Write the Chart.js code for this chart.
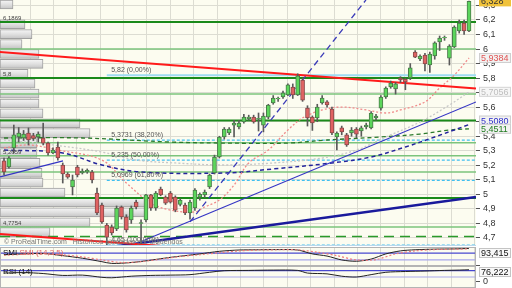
<!DOCTYPE html>
<html><head><meta charset="utf-8">
<script src="https://cdn.jsdelivr.net/npm/chart.js@4.4.0/dist/chart.umd.min.js"></script>
<style>
html,body{margin:0;padding:0;background:#fff;width:512px;height:288px;overflow:hidden;}
canvas{position:absolute;left:0;}
#main{top:0;} #smi{top:247px;} #rsi{top:266px;}
</style></head><body>
<canvas id="main" width="512" height="246"></canvas>
<canvas id="smi" width="512" height="19"></canvas>
<canvas id="rsi" width="512" height="22"></canvas>
<script>
// ---------- DATA ----------
const opens  = [5.230,5.188,5.319,5.395,5.388,5.422,5.405,5.395,5.388,5.353,5.285,5.326,5.202,5.140,5.051,5.188,5.147,5.154,5.154,5.009,4.927,4.789,4.775,4.762,4.913,4.844,4.824,4.947,4.800,4.824,4.996,4.906,5.037,4.982,5.009,4.982,4.930,4.927,4.872,4.906,4.980,4.996,5.051,5.147,5.257,5.395,5.422,5.477,5.464,5.498,5.520,5.532,5.520,5.477,5.532,5.629,5.656,5.670,5.684,5.739,5.684,5.787,5.594,5.532,5.526,5.629,5.636,5.587,5.395,5.457,5.409,5.422,5.450,5.436,5.464,5.457,5.526,5.594,5.670,5.739,5.725,5.801,5.794,5.801,5.980,5.932,5.959,5.890,5.952,6.049,6.076,5.938,6.014,6.124,6.179,6.124];
const closes = [5.154,5.250,5.409,5.422,5.415,5.374,5.385,5.415,5.353,5.285,5.305,5.250,5.140,5.119,5.099,5.133,5.161,5.165,5.099,4.872,4.810,4.706,4.734,4.906,4.844,4.755,4.906,4.913,4.805,4.996,4.906,5.009,4.996,4.940,4.947,4.892,4.960,4.872,4.947,5.030,5.000,5.016,5.133,5.257,5.395,5.450,5.450,5.491,5.491,5.532,5.532,5.498,5.524,5.539,5.615,5.663,5.661,5.698,5.753,5.684,5.815,5.649,5.526,5.491,5.601,5.663,5.615,5.422,5.422,5.429,5.340,5.443,5.415,5.457,5.477,5.560,5.539,5.670,5.732,5.766,5.760,5.787,5.773,5.870,5.945,5.952,5.897,5.966,6.042,6.076,6.081,6.021,6.152,6.179,6.124,6.328];
const highs  = [5.250,5.260,5.477,5.460,5.440,5.457,5.420,5.430,5.490,5.360,5.320,5.360,5.216,5.150,5.133,5.200,5.175,5.175,5.165,5.044,4.940,4.800,4.790,4.920,4.920,4.860,4.920,4.960,4.824,5.000,5.000,5.020,5.050,4.990,5.020,4.990,4.970,4.940,4.960,5.040,5.010,5.030,5.140,5.270,5.400,5.460,5.460,5.510,5.510,5.550,5.545,5.545,5.560,5.560,5.620,5.680,5.670,5.710,5.760,5.760,5.830,5.800,5.610,5.540,5.620,5.680,5.645,5.600,5.430,5.470,5.420,5.460,5.460,5.470,5.490,5.570,5.550,5.680,5.740,5.780,5.770,5.810,5.800,5.900,5.990,5.960,5.970,5.980,6.050,6.090,6.090,6.030,6.160,6.200,6.200,6.330];
const lows   = [5.133,5.180,5.285,5.360,5.370,5.340,5.370,5.360,5.340,5.270,5.280,5.236,5.078,5.110,4.996,5.120,5.140,5.145,5.078,4.860,4.800,4.650,4.720,4.750,4.830,4.740,4.800,4.900,4.660,4.810,4.890,4.890,4.990,4.930,4.940,4.880,4.920,4.860,4.830,4.890,4.960,4.980,5.040,5.140,5.250,5.380,5.410,5.395,5.450,5.490,5.510,5.490,5.436,5.430,5.520,5.620,5.640,5.660,5.680,5.660,5.680,5.640,5.470,5.440,5.500,5.620,5.600,5.410,5.305,5.410,5.330,5.400,5.390,5.400,5.450,5.450,5.510,5.580,5.660,5.730,5.690,5.770,5.720,5.790,5.940,5.920,5.850,5.840,5.930,5.990,6.060,5.890,6.010,6.110,6.100,6.120];

// moving averages  [candle index, price]
const maShort = [[0,5.319],[5,5.340],[11,5.305],[20,5.236],[25,5.078],[30,4.940],[34,4.892],[39,4.879],[41,4.913],[44,4.961],[47,5.064],[50,5.216],[54,5.305],[58,5.443],[61,5.526],[65,5.581],[69,5.601],[74,5.581],[78,5.560],[81,5.581],[86,5.636],[89,5.732],[92,5.821],[95,5.9384]];
const maMid   = [[0,5.374],[10,5.340],[20,5.291],[27,5.236],[35,5.216],[45,5.202],[55,5.216],[65,5.250],[72,5.305],[78,5.395],[85,5.498],[91,5.615],[95,5.7056]];
const maLong  = [[0,5.305],[12,5.285],[20,5.202],[28,5.154],[45,5.147],[55,5.175],[67,5.216],[75,5.257],[82,5.326],[88,5.395],[95,5.480]];
const maLong2 = [[0,5.388],[16,5.388],[34,5.360],[45,5.353],[58,5.353],[66,5.374],[77,5.395],[85,5.415],[91,5.443],[95,5.4511]];

// trend lines [index, price] endpoints
const trendRedTop    = [[-0.82,5.980],[96.43,5.729]];
const trendRedLow    = [[-0.82,4.727],[35,4.638]];
const trendNavy      = [[20,4.629],[96.43,4.982]];
const trendBlueA     = [[-0.82,5.120],[12.05,5.230]];
const trendBlueB     = [[27.8,4.672],[96.43,5.636]];
const trendNavyDash  = [[38,4.810],[73.95,6.338]];

// horizontal levels
const darkLevels  = [6.1869, 5.80, 5.508, 4.975];
const lightLevels = [6.0, 5.69, 5.355, 5.2659, 5.154, 4.7754];
const dashLevel   = 4.71;
const fibLevels   = [5.82, 5.3731, 5.235, 5.0969, 4.65];
const fibPct      = ['0,00%','38,20%','50,00%','61,80%','100,00%'];
const fibStart    = 21;
const profileLabelValues = [6.1869, 5.8, 5.2659, 4.7754];

// volume profile
const profilePrices  = [6.3067,6.2385,6.1704,6.1023,6.0341,5.9660,5.8979,5.8297,5.7616,5.6935,5.6253,5.5572,5.4891,5.4209,5.3528,5.2847,5.2165,5.1484,5.0803,5.0121,4.9440,4.8759,4.8077,4.7396];
const profileVolumes = [13,0,25,32,22,39,43,28,35,39,39,43,80,90,37,37,40,42,43,65,145,145,90,50];

// indicators [index, value]
const smi    = [[0,20],[4,30],[8,35],[12,10],[16,-20],[20,-60],[22,-80],[26,-70],[29,-50],[34,-10],[40,30],[44,60],[48,75],[52,78],[56,80],[60,75],[63,30],[66,5],[69,-40],[72,-55],[75,-30],[78,30],[81,65],[84,78],[88,85],[92,88],[95,93.415]];
const smiSig = [[0,15],[4,25],[8,32],[12,20],[16,-5],[20,-40],[24,-70],[28,-60],[32,-30],[36,0],[40,20],[44,45],[48,65],[52,75],[56,78],[60,77],[64,50],[68,10],[72,-40],[76,-35],[80,30],[84,65],[88,80],[92,85],[95,88]];
const rsi    = [[0,55],[4,58],[8,52],[12,40],[16,42],[20,28],[22,25],[26,35],[30,40],[34,42],[38,45],[42,60],[45,70],[50,72],[55,74],[60,72],[62,55],[66,50],[69,35],[72,30],[75,45],[78,60],[82,65],[86,68],[90,72],[93,74],[95,76.222]];

// ---------- CONFIG ----------
const X_MIN = -0.82, X_MAX = 96.43;
const GRID = '#dcdcd2';
const BG = '#fcfcf0';
Chart.defaults.font.family = 'Liberation Sans';
Chart.defaults.font.size = 9;
Chart.defaults.color = '#333';
const fmt = v => String(v).replace('.', ',');
const gridX = [];
for (let g = 5.31; g < X_MAX; g += 4.78) gridX.push(g);

const pts = arr => arr.map(p => ({x: p[0], y: p[1]}));
const hLine = (v, x0 = X_MIN) => [{x: x0, y: v}, {x: X_MAX, y: v}];
const lineDs = (data, color, width, dash, order, tension) => ({
  type: 'line', data, borderColor: color, borderWidth: width, borderDash: dash || [],
  pointRadius: 0, tension: tension || 0, order, xAxisID: 'x', yAxisID: 'y', fill: false
});

const idx = opens.map((_, i) => i);
const up = i => closes[i] >= opens[i];

const datasets = [];
// candles (top)
datasets.push({type: 'bar', data: idx.map(i => ({x: i, y: [opens[i], closes[i]]})),
  backgroundColor: idx.map(i => up(i) ? '#5cd65c' : '#e06262'),
  borderColor: idx.map(i => up(i) ? '#4a7a4a' : '#8a4a4a'), borderWidth: 1, borderSkipped: false,
  barThickness: 4, grouped: false, order: 1, xAxisID: 'x', yAxisID: 'y'});
datasets.push({type: 'bar', data: idx.map(i => ({x: i, y: [lows[i], highs[i]]})),
  backgroundColor: '#5a5a5a', barThickness: 1, grouped: false, order: 2, xAxisID: 'x', yAxisID: 'y'});
// trend lines
datasets.push(lineDs(pts(trendRedTop), '#ff1a1a', 2, null, 5));
datasets.push(lineDs(pts(trendRedLow), '#ff1a1a', 2, null, 5));
datasets.push(lineDs(pts(trendNavy), '#1a1a9c', 2.5, null, 5));
datasets.push(lineDs(pts(trendBlueA), '#3434c4', 1.2, null, 5));
datasets.push(lineDs(pts(trendBlueB), '#3434c4', 1.2, null, 5));
datasets.push(lineDs(pts(trendNavyDash), '#3a3ab8', 1.3, [6, 4], 5));
// moving averages
datasets.push(lineDs(pts(maShort), '#f08a8a', 1.3, [2, 2], 6, 0.35));
datasets.push(lineDs(pts(maMid), '#c8c8c8', 1.3, [2, 2], 6, 0.35));
datasets.push(lineDs(pts(maLong), '#24249c', 1.5, [4, 3], 6, 0.35));
datasets.push(lineDs(pts(maLong2), '#2a7a2a', 1.3, [4, 3], 6, 0.35));
// levels
darkLevels.forEach(v => datasets.push(lineDs(hLine(v), '#1a8a1a', 2, null, 8)));
lightLevels.forEach(v => datasets.push(lineDs(hLine(v), '#7cc47c', 1.5, null, 8)));
datasets.push(lineDs(hLine(dashLevel), '#2a9a2a', 1.5, [10, 6], 8));
fibLevels.forEach((v, k) => datasets.push(lineDs(hLine(v, fibStart), k === 0 ? '#9edcf2' : '#40bff0', k === 0 ? 2 : 1.2, k === 0 ? null : [3, 2], 7)));
// volume profile (bottom)
datasets.push({type: 'bar', indexAxis: 'y', xAxisID: 'xv', yAxisID: 'y', order: 20, grouped: false,
  data: profilePrices.map((p, k) => ({x: profileVolumes[k], y: p})),
  barThickness: 9, borderWidth: 1, borderColor: '#a0a0a0', borderSkipped: false,
  backgroundColor: c => {
    const ch = c.chart; if (!ch.chartArea || !c.raw) return '#e0e0e0';
    const yp = ch.scales.y.getPixelForValue(c.raw.y);
    const g = ch.ctx.createLinearGradient(0, yp - 4.5, 0, yp + 4.5);
    g.addColorStop(0, '#f6f6f6'); g.addColorStop(0.5, '#e0e0e0'); g.addColorStop(1, '#c4c4c4');
    return g;
  }});

const bgPlugin = {id: 'bg', beforeDraw(ch) {
  const {ctx, chartArea: a} = ch; ctx.save(); ctx.fillStyle = BG;
  ctx.fillRect(a.left, a.top, a.right - a.left, a.bottom - a.top); ctx.restore();
}};

function box(ctx, text, yc, fg, bg, border) {
  ctx.save();
  ctx.font = '9px "Liberation Sans"';
  ctx.fillStyle = bg; ctx.fillRect(479, yc - 5, 32, 10);
  if (border) { ctx.strokeStyle = border; ctx.lineWidth = 1; ctx.strokeRect(479.5, yc - 4.5, 31, 9); }
  ctx.fillStyle = fg; ctx.textBaseline = 'middle'; ctx.textAlign = 'left';
  ctx.fillText(text, 481, yc + 0.5);
  ctx.restore();
}

const mainLabels = {id: 'mainLabels', afterDraw(ch) {
  const {ctx, scales: {x, y}} = ch;
  ctx.save();
  ctx.font = '6px "Liberation Sans"'; ctx.fillStyle = '#444'; ctx.textBaseline = 'alphabetic';
  profileLabelValues.forEach(v => ctx.fillText(fmt(v), 3, y.getPixelForValue(v) - 2));
  ctx.font = '7px "Liberation Sans"'; ctx.fillStyle = '#555';
  fibLevels.forEach((v, k) => ctx.fillText(fmt(v) + ' (' + fibPct[k] + ')', x.getPixelForValue(fibStart + 0.9), y.getPixelForValue(v) - 3));
  ctx.font = '7px "Liberation Sans"'; ctx.fillStyle = '#777';
  ctx.fillText('\u00a9 ProRealTime.com   Hist\u00f3ricos ajustados por dividendos', 4, 244);
  ctx.strokeStyle = '#b8d8ec'; ctx.lineWidth = 1;
  ctx.beginPath(); ctx.moveTo(0, 245.5); ctx.lineTo(476, 245.5); ctx.stroke();
  ctx.restore();
  box(ctx, fmt(closes[closes.length - 1]), y.getPixelForValue(closes[closes.length - 1]), '#333', '#f0c23a', null);
  box(ctx, fmt(maShort[maShort.length - 1][1]), y.getPixelForValue(maShort[maShort.length - 1][1]), '#e05454', '#f2f2f2', '#cfcfcf');
  box(ctx, fmt(maMid[maMid.length - 1][1]), y.getPixelForValue(maMid[maMid.length - 1][1]), '#bdbdbd', '#f6f6f6', '#d6d6d6');
  box(ctx, '5,5080', y.getPixelForValue(5.508), '#2a2ac8', '#f2f2f2', '#cfcfcf');
  box(ctx, fmt(maLong2[maLong2.length - 1][1]), y.getPixelForValue(maLong2[maLong2.length - 1][1]), '#1f7a1f', '#f2f2f2', '#cfcfcf');
}};

const fixW = s => { s.width = 36; s.paddingTop = 0; s.paddingBottom = 0; };
const zeroH = s => { s.height = 0; s.paddingLeft = 0; s.paddingRight = 0; };
const xScale = () => ({type: 'linear', min: X_MIN, max: X_MAX, display: true, offset: false,
  ticks: {display: false}, grid: {color: GRID, drawTicks: false, offset: false}, border: {display: false},
  afterBuildTicks: s => { s.ticks = gridX.map(v => ({value: v})); }, afterFit: zeroH});

new Chart(document.getElementById('main'), {
  data: {datasets},
  options: {
    responsive: false, animation: false, events: [],
    layout: {padding: 0},
    plugins: {legend: {display: false}, tooltip: {enabled: false}},
    scales: {
      x: xScale(),
      xv: {type: 'linear', min: 0, max: 476, display: false, offset: false},
      y: {type: 'linear', position: 'right', min: 4.6446, max: 6.3376, offset: false,
        ticks: {stepSize: 0.1, includeBounds: false, padding: 3, color: '#333', font: {size: 9},
          callback: v => fmt(Number(v.toFixed(1)))},
        grid: {color: GRID, tickLength: 4, tickColor: '#555', offset: false}, border: {display: false}, afterFit: fixW}
    }
  },
  plugins: [bgPlugin, mainLabels]
});

function panel(id, series, lines, yMin, yMax, title, titleExtra, valueBox, tickVals, tickText) {
  const ds = series.map(s => lineDs(pts(s.data), s.color, s.width, s.dash, 1, 0.3));
  lines.forEach(l => ds.push(lineDs(hLine(l.v), l.color, 1.2, null, 3)));
  new Chart(document.getElementById(id), {
    data: {datasets: ds},
    options: {
      responsive: false, animation: false, events: [], layout: {padding: 0},
      plugins: {legend: {display: false}, tooltip: {enabled: false}},
      scales: {
        x: xScale(),
        y: {type: 'linear', position: 'right', min: yMin, max: yMax, offset: false,
          afterBuildTicks: s => { s.ticks = tickVals.map(v => ({value: v})); },
          ticks: {padding: 3, color: '#333', font: {size: 9}, callback: v => tickText},
          grid: {drawOnChartArea: false, tickLength: 4, tickColor: '#555'}, border: {display: false}, afterFit: fixW}
      }
    },
    plugins: [bgPlugin, {id: 'pl', afterDraw(ch) {
      const {ctx, chartArea: a, scales: {y}} = ch;
      ctx.save();
      ctx.strokeStyle = '#b4b4b4'; ctx.lineWidth = 1;
      ctx.strokeRect(a.left + 0.5, a.top + 0.5, a.right - a.left - 1, a.bottom - a.top - 1);
      ctx.font = '8px "Liberation Sans"'; ctx.textBaseline = 'top'; ctx.fillStyle = '#111';
      ctx.fillText(title, 3, 2);
      if (titleExtra) { ctx.fillStyle = '#e06a6a'; ctx.fillText(titleExtra, 3 + ctx.measureText(title + ' ').width, 2); }
      ctx.restore();
      box(ctx, valueBox.text, Math.min(Math.max(y.getPixelForValue(valueBox.v), 6), a.bottom - 6), '#111', '#f8f8f8', '#c4c4c4');
    }}]
  });
}

panel('smi',
  [{data: smiSig, color: '#f07a7a', width: 1.2, dash: [2, 2]}, {data: smi, color: '#222', width: 1}],
  [{v: 40, color: '#4848d0'}, {v: -40, color: '#a8a8ec'}], -110, 110,
  'SMI', 'SMI (14,3,5)', {text: '93,415', v: 93.415}, [-100], '');
panel('rsi',
  [{data: rsi, color: '#222', width: 1}],
  [{v: 70, color: '#4848d0'}, {v: 30, color: '#a8a8ec'}], -40, 100,
  'RSI (14)', null, {text: '76,222', v: 76.222}, [0], '0');
</script>
</body></html>
